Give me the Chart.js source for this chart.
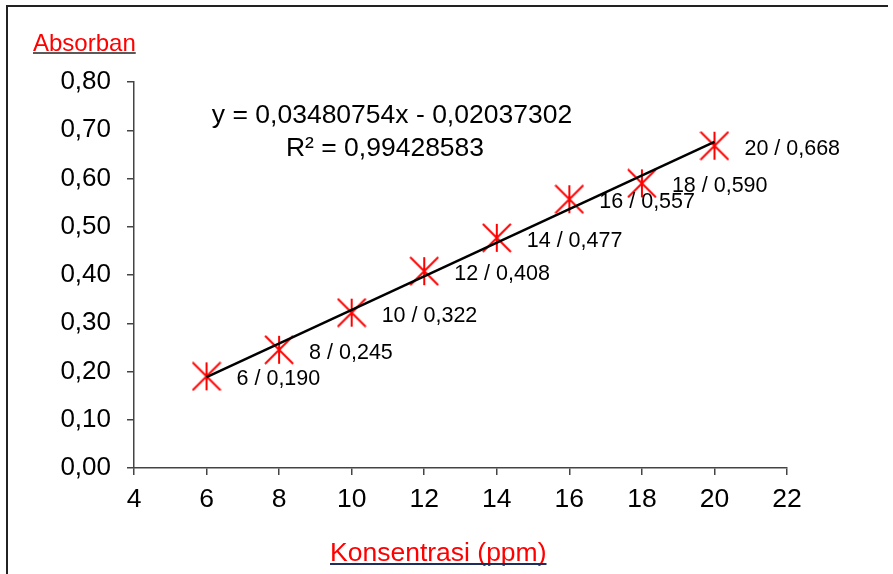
<!DOCTYPE html>
<html>
<head>
<meta charset="utf-8">
<script src="https://cdn.jsdelivr.net/npm/chart.js@4.4.1/dist/chart.umd.min.js"></script>
<style>
  body { margin: 0; background: #fff; }
  #wrap { position: relative; width: 893px; height: 574px; }
</style>
</head>
<body>
<div id="wrap"><canvas id="myChart"></canvas></div>
<script>
// datos
const konsentrasi = [6, 8, 10, 12, 14, 16, 18, 20];
const absorban = [0.190, 0.245, 0.322, 0.408, 0.477, 0.557, 0.590, 0.668];
const slope = 0.03480754;
const intercept = -0.02037302;
const eqLine1 = 'y = 0,03480754x - 0,02037302';
const eqLine2 = 'R² = 0,99428583';
const xTitle = 'Konsentrasi (ppm)';
const yTitle = 'Absorban';

const FONT = '"Liberation Sans", Arial, sans-serif';
const fmt = v => v.toFixed(2).replace('.', ',');

// marcador tipo asterisco (como Excel)
function makeStar(size, color) {
    const c = document.createElement('canvas');
    c.width = size; c.height = size;
    const g = c.getContext('2d');
    const h = size / 2, r = h - 1;
    g.strokeStyle = color;
    g.lineWidth = 2;
    g.beginPath();
    g.moveTo(h - r, h - r); g.lineTo(h + r, h + r);
    g.moveTo(h + r, h - r); g.lineTo(h - r, h + r);
    g.moveTo(h, h - r); g.lineTo(h, h + r);
    g.stroke();
    return c;
}
const star = makeStar(30, '#ff0000');

const points = konsentrasi.map((x, i) => ({ x: x, y: absorban[i] }));
const xFirst = konsentrasi[0], xLast = konsentrasi[konsentrasi.length - 1];
const trend = [
    { x: xFirst, y: slope * xFirst + intercept },
    { x: xLast, y: slope * xLast + intercept }
];

const extras = {
    id: 'extras',
    beforeDraw(chart) {
        const ctx = chart.ctx;
        ctx.save();
        ctx.strokeStyle = '#222';
        ctx.lineWidth = 2;
        ctx.beginPath();
        ctx.moveTo(7, 574); ctx.lineTo(7, 6); ctx.lineTo(888, 6);
        ctx.stroke();
        ctx.restore();
    },
    afterDraw(chart) {
        const ctx = chart.ctx;
        ctx.save();
        // títulos subrayados
        ctx.fillStyle = '#ff0000';
        ctx.textBaseline = 'alphabetic';
        ctx.textAlign = 'left';
        ctx.font = '24px ' + FONT;
        ctx.fillText(yTitle, 33, 51);
        let w = ctx.measureText(yTitle).width;
        ctx.strokeStyle = '#222';
        ctx.lineWidth = 1.5;
        ctx.beginPath(); ctx.moveTo(33, 53); ctx.lineTo(33 + w, 53); ctx.stroke();

        ctx.font = '26.5px ' + FONT;
        ctx.fillText(xTitle, 330, 561);
        w = ctx.measureText(xTitle).width;
        ctx.strokeStyle = '#1f2d5c';
        ctx.lineWidth = 2;
        ctx.beginPath(); ctx.moveTo(330, 564); ctx.lineTo(330 + w, 564); ctx.stroke();

        // ecuación
        ctx.fillStyle = '#000';
        ctx.textAlign = 'center';
        ctx.font = '26.5px ' + FONT;
        ctx.fillText(eqLine1, 392, 123);
        ctx.fillText(eqLine2, 385, 156);

        // etiquetas de datos
        const meta = chart.getDatasetMeta(1);
        ctx.font = '21.5px ' + FONT;
        ctx.textAlign = 'left';
        ctx.textBaseline = 'middle';
        meta.data.forEach((pt, i) => {
            const txt = konsentrasi[i] + ' / ' + absorban[i].toFixed(3).replace('.', ',');
            ctx.fillText(txt, pt.x + 30, pt.y + 3);
        });
        ctx.restore();
    }
};

new Chart(document.getElementById('myChart'), {
    type: 'scatter',
    data: {
        datasets: [{
            label: 'Linear',
            data: trend,
            showLine: true,
            borderColor: '#000',
            borderWidth: 2.5,
            pointRadius: 0,
            order: 0
        }, {
            label: 'Absorban',
            data: points,
            pointStyle: star,
            pointRadius: 14,
            showLine: false,
            order: 1
        }]
    },
    options: {
        responsive: true,
        maintainAspectRatio: false,
        animation: false,
        layout: { padding: { left: 0, top: 82, right: 106, bottom: 0 } },
        plugins: { legend: { display: false }, tooltip: { enabled: false } },
        scales: {
            x: {
                type: 'linear',
                min: 4, max: 22,
                ticks: { stepSize: 2, color: '#000', font: { family: FONT, size: 26.5 }, padding: 9 },
                grid: { drawOnChartArea: false, drawTicks: true, tickLength: 7, color: '#444', lineWidth: 1.5 },
                border: { color: '#444', width: 1.5 },
                afterFit: s => { s.height = 106; }
            },
            y: {
                min: 0, max: 0.8,
                ticks: { stepSize: 0.1, color: '#000', font: { family: FONT, size: 26 }, padding: 16, callback: v => fmt(v) },
                grid: { drawOnChartArea: false, drawTicks: true, tickLength: 7, color: '#444', lineWidth: 1.5 },
                border: { color: '#444', width: 1.5 },
                afterFit: s => { s.width = 134; }
            }
        }
    },
    plugins: [extras]
});
</script>
</body>
</html>
